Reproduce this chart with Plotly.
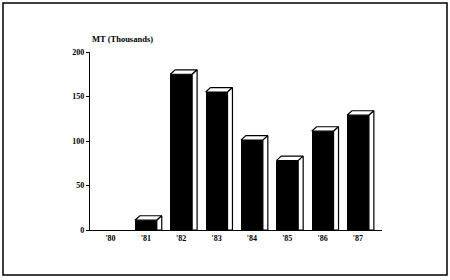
import plotly.graph_objects as go

# ---- data ----
years = ["'80", "'81", "'82", "'83", "'84", "'85", "'86", "'87"]
values = [0, 11, 175, 155, 101, 78, 111, 129]
y_ticks = [0, 50, 100, 150, 200]
y_title = "MT (Thousands)"

# ---- layout constants ----
W, H = 450, 280
ML, MR, MT, MB = 90, 68, 52, 50
BAR_W = 0.62
DX = 0.14   # depth offset in category units
DY = 5.0    # depth offset in value units

xs = list(range(len(years)))
fig = go.Figure()

# front faces
fig.add_trace(go.Bar(
    x=xs, y=values, width=BAR_W,
    marker=dict(color="black", line=dict(width=0)),
    hoverinfo="skip", showlegend=False,
))

# 3D top and side faces
for x, v in zip(xs, values):
    if v <= 0:
        continue
    xl, xr = x - BAR_W / 2, x + BAR_W / 2
    # top face
    fig.add_trace(go.Scatter(
        x=[xl, xl + DX, xr + DX, xr, xl],
        y=[v, v + DY, v + DY, v, v],
        mode="lines", fill="toself", fillcolor="white",
        line=dict(color="black", width=1.2),
        hoverinfo="skip", showlegend=False,
    ))
    # side face
    fig.add_trace(go.Scatter(
        x=[xr, xr + DX, xr + DX, xr, xr],
        y=[v, v + DY, 0, 0, v],
        mode="lines", fill="toself", fillcolor="white",
        line=dict(color="black", width=1.2),
        hoverinfo="skip", showlegend=False,
    ))

pw = W - ML - MR
ph = H - MT - MB

fig.update_layout(
    width=W, height=H,
    margin=dict(l=ML, r=MR, t=MT, b=MB),
    paper_bgcolor="white", plot_bgcolor="white",
    font=dict(family="Liberation Serif", size=8, color="#000000"),
    bargap=0,
    xaxis=dict(
        range=[-0.58, 7.68], tickmode="array", tickvals=xs, ticktext=years,
        showgrid=False, zeroline=False, showline=True, linecolor="black",
        linewidth=1.2, ticks="", tickfont=dict(size=8, weight="bold", color="#000000"),
        fixedrange=True,
    ),
    yaxis=dict(
        range=[0, 200], tickmode="array", tickvals=y_ticks,
        showgrid=False, zeroline=False, showline=True, linecolor="black",
        linewidth=1.2, ticks="outside", ticklen=3, tickcolor="black",
        tickfont=dict(size=8, weight="bold", color="#000000"), fixedrange=True,
    ),
    annotations=[dict(
        text=y_title, xref="paper", yref="paper", x=0, y=1 + 6 / ph,
        xanchor="left", yanchor="bottom", showarrow=False,
        font=dict(size=8.5, weight="bold", color="#000000"),
    )],
    shapes=[dict(
        type="rect", xref="paper", yref="paper",
        x0=(3 - ML) / pw, x1=(447 - ML) / pw,
        y0=-(275 - (H - MB)) / ph, y1=1 + (MT - 3) / ph,
        line=dict(color="black", width=1.5), fillcolor="rgba(0,0,0,0)",
        layer="below",
    )],
)

fig.write_html("out.html")
